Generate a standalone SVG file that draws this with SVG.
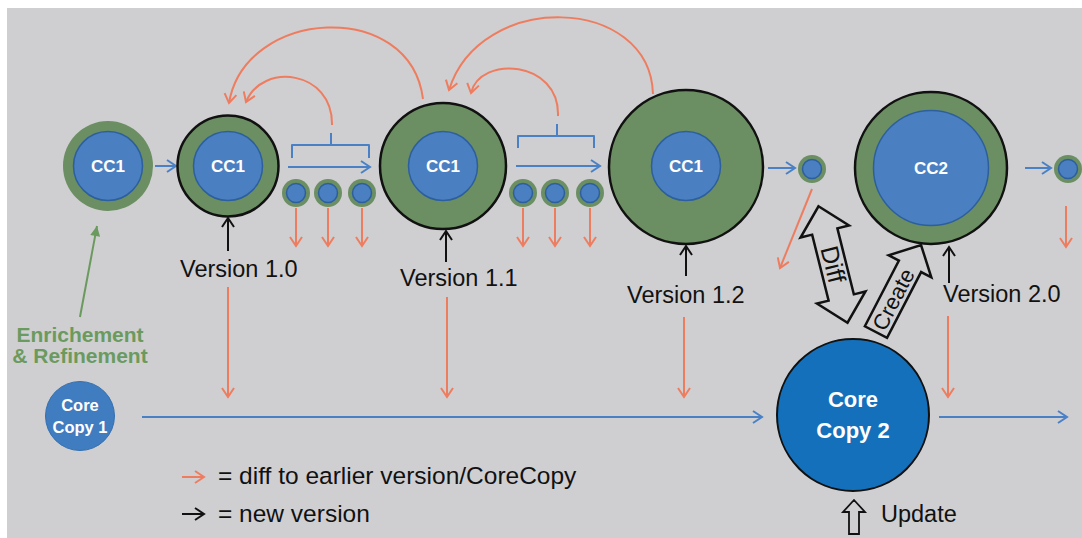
<svg xmlns="http://www.w3.org/2000/svg" width="1082" height="538" viewBox="0 0 1082 538">
<style>
.ring{fill:#6b8f62}
.ringb{fill:#6b8f62;stroke:#111;stroke-width:2.5}
.core{fill:#4a7fc1;stroke:#2d5f9e;stroke-width:1.5}
.red{stroke:#ee7d60;stroke-width:2;fill:none}
.blue{stroke:#4a80c6;stroke-width:2;fill:none}
.blk{stroke:#111;stroke-width:2;fill:none}
.grn{stroke:#6b9a5e;stroke-width:2;fill:none}
.lbl{font-family:"Liberation Sans",Arial,sans-serif;fill:#111;font-size:23.5px}
.wt{font-family:"Liberation Sans",Arial,sans-serif;fill:#fff;font-weight:bold;text-anchor:middle}
.blockarrow{fill:#d0d0d2;stroke:#111;stroke-width:2.5;stroke-linejoin:miter}
</style>
<defs>
<marker id="mr" viewBox="0 0 14 14" refX="12" refY="7" markerWidth="14" markerHeight="14" markerUnits="userSpaceOnUse" orient="auto"><path d="M3,1 L12,7 L3,13" fill="none" stroke="#ee7d60" stroke-width="2"/></marker>
<marker id="mb" viewBox="0 0 14 14" refX="12" refY="7" markerWidth="14" markerHeight="14" markerUnits="userSpaceOnUse" orient="auto"><path d="M3,1 L12,7 L3,13" fill="none" stroke="#4a80c6" stroke-width="2"/></marker>
<marker id="mk" viewBox="0 0 14 14" refX="12" refY="7" markerWidth="14" markerHeight="14" markerUnits="userSpaceOnUse" orient="auto"><path d="M3,1 L12,7 L3,13" fill="none" stroke="#111" stroke-width="2"/></marker>
<marker id="mg" viewBox="0 0 14 14" refX="12" refY="7" markerWidth="14" markerHeight="14" markerUnits="userSpaceOnUse" orient="auto"><path d="M2,2 L12,7 L2,12 Z" fill="#6b9a5e"/></marker>
</defs>
<rect x="0" y="0" width="1082" height="538" fill="#ffffff"/>
<rect x="7" y="8" width="1075" height="530" fill="#cfcfd1"/>

<g id="connectors">
<path class="red" d="M332,125 C333,70 262,62 246,102" marker-end="url(#mr)"/>
<path class="red" d="M423,99 C410,-2 245,8 229,103" marker-end="url(#mr)"/>
<path class="red" d="M558,116 C560,60 480,55 471,93" marker-end="url(#mr)"/>
<path class="red" d="M653,94 C650,-5 480,-10 449,90" marker-end="url(#mr)"/>
<path class="blue" d="M292,158 V145 H331 V133 M331,145 H369 V158" stroke-linejoin="round"/>
<path class="blue" d="M518,148 V136 H557 V124 M557,136 H594 V148" stroke-linejoin="round"/>
<line class="blue" x1="155" y1="166" x2="176" y2="166" marker-end="url(#mb)"/>
<line class="blue" x1="288" y1="167" x2="370" y2="167" marker-end="url(#mb)"/>
<line class="blue" x1="516" y1="166" x2="600" y2="166" marker-end="url(#mb)"/>
<line class="blue" x1="768" y1="168" x2="795" y2="168" marker-end="url(#mb)"/>
<line class="blue" x1="1025" y1="168" x2="1051" y2="168" marker-end="url(#mb)"/>
<line class="blue" x1="142" y1="417" x2="762" y2="417" marker-end="url(#mb)"/>
<line class="blue" x1="939" y1="417" x2="1067" y2="417" marker-end="url(#mb)"/>
<line class="red" x1="296" y1="208" x2="296" y2="246" marker-end="url(#mr)"/>
<line class="red" x1="328" y1="208" x2="328" y2="246" marker-end="url(#mr)"/>
<line class="red" x1="362" y1="208" x2="362" y2="246" marker-end="url(#mr)"/>
<line class="red" x1="523" y1="208" x2="523" y2="246" marker-end="url(#mr)"/>
<line class="red" x1="555" y1="208" x2="555" y2="246" marker-end="url(#mr)"/>
<line class="red" x1="590" y1="208" x2="590" y2="246" marker-end="url(#mr)"/>
<line class="red" x1="1066" y1="206" x2="1066" y2="247" marker-end="url(#mr)"/>
<line class="red" x1="812" y1="189" x2="780" y2="268" marker-end="url(#mr)"/>
<line class="red" x1="228" y1="287" x2="228" y2="397" marker-end="url(#mr)"/>
<line class="red" x1="447" y1="297" x2="447" y2="397" marker-end="url(#mr)"/>
<line class="red" x1="684" y1="317" x2="684" y2="397" marker-end="url(#mr)"/>
<line class="red" x1="948" y1="316" x2="948" y2="397" marker-end="url(#mr)"/>
<line class="blk" x1="228" y1="251" x2="228" y2="218" marker-end="url(#mk)"/>
<line class="blk" x1="446" y1="262" x2="446" y2="231" marker-end="url(#mk)"/>
<line class="blk" x1="686" y1="276" x2="686" y2="246" marker-end="url(#mk)"/>
<line class="blk" x1="949" y1="283" x2="949" y2="247" marker-end="url(#mk)"/>
<line class="grn" x1="80" y1="317" x2="97" y2="226" marker-end="url(#mg)"/>
</g>

<g id="n1">
<circle class="ring" cx="108" cy="166" r="45"/>
<circle class="core" cx="108" cy="166" r="34.5"/>
<text class="wt" x="108" y="172" font-size="17">CC1</text>
</g>
<g id="n2">
<circle class="ringb" cx="228" cy="166" r="50.5"/>
<circle class="core" cx="228" cy="166" r="34.5"/>
<text class="wt" x="228" y="172" font-size="17">CC1</text>
</g>
<g id="sa">
<circle class="ring" cx="296" cy="193" r="14"/><circle class="core" cx="296" cy="193" r="9.5"/>
<circle class="ring" cx="328" cy="193" r="14"/><circle class="core" cx="328" cy="193" r="9.5"/>
<circle class="ring" cx="362" cy="193" r="14"/><circle class="core" cx="362" cy="193" r="9.5"/>
</g>
<g id="n3">
<circle class="ringb" cx="443" cy="166" r="63"/>
<circle class="core" cx="443" cy="166" r="34.5"/>
<text class="wt" x="443" y="172" font-size="17">CC1</text>
</g>
<g id="sb">
<circle class="ring" cx="523" cy="193" r="14"/><circle class="core" cx="523" cy="193" r="9.5"/>
<circle class="ring" cx="555" cy="193" r="14"/><circle class="core" cx="555" cy="193" r="9.5"/>
<circle class="ring" cx="590" cy="193" r="14"/><circle class="core" cx="590" cy="193" r="9.5"/>
</g>
<g id="n4">
<circle class="ringb" cx="686" cy="167" r="77"/>
<circle class="core" cx="686" cy="166" r="34.5"/>
<text class="wt" x="686" y="172" font-size="17">CC1</text>
</g>
<g id="s4">
<circle class="ring" cx="812" cy="169" r="14"/><circle class="core" cx="812" cy="169" r="9.5"/>
</g>
<g id="n5">
<circle class="ringb" cx="931" cy="168" r="76"/>
<circle class="core" cx="931" cy="168" r="57.5"/>
<text class="wt" x="931" y="174" font-size="17">CC2</text>
</g>
<g id="s5">
<circle class="ring" cx="1068" cy="169" r="14"/><circle class="core" cx="1068" cy="169" r="9.5"/>
</g>
<g id="cc1">
<circle cx="80" cy="416" r="34.5" fill="#3f7cc0" stroke="#3470b0" stroke-width="1"/>
<text class="wt" x="80" y="411" font-size="16.5">Core</text>
<text class="wt" x="80" y="433" font-size="16.5">Copy 1</text>
</g>
<g id="cc2">
<circle cx="853" cy="415" r="76" fill="#1470ba" stroke="#111" stroke-width="2"/>
<text class="wt" x="853" y="407" font-size="22">Core</text>
<text class="wt" x="853" y="438" font-size="22">Copy 2</text>
</g>

<g id="labels">
<text class="lbl" x="180" y="277">Version 1.0</text>
<text class="lbl" x="400" y="286">Version 1.1</text>
<text class="lbl" x="627" y="303">Version 1.2</text>
<text class="lbl" x="943" y="302">Version 2.0</text>
<text x="80" y="342" text-anchor="middle" font-family="Liberation Sans, Arial, sans-serif" font-weight="bold" font-size="21" fill="#6b9a5e">Enrichement</text>
<text x="80" y="363" text-anchor="middle" font-family="Liberation Sans, Arial, sans-serif" font-weight="bold" font-size="21" fill="#6b9a5e">&amp; Refinement</text>
</g>

<g id="diff" transform="translate(833,264.5) rotate(76)">
<polygon class="blockarrow" points="-60,0 -34,-25 -34,-13 34,-13 34,-25 60,0 34,25 34,13 -34,13 -34,25"/>
<text class="lbl" x="0" y="8.5" text-anchor="middle" style="font-size:25px">Diff</text>
</g>
<g id="create" transform="translate(898.5,288.5) rotate(-62.6)">
<polygon class="blockarrow" points="-49,-12.5 25,-12.5 25,-24 49,0 25,24 25,12.5 -49,12.5"/>
<text class="lbl" x="-12" y="8" text-anchor="middle" style="font-size:22px">Create</text>
</g>
<g id="update">
<polygon points="854,500 865,512 859,512 859,534 849,534 849,512 843,512" fill="none" stroke="#111" stroke-width="1.8"/>
<text class="lbl" x="881" y="522">Update</text>
</g>

<g id="legend">
<line class="red" x1="182" y1="477" x2="204" y2="477" marker-end="url(#mr)"/>
<text class="lbl" x="218" y="484" style="font-size:24.5px">= diff to earlier version/CoreCopy</text>
<line class="blk" x1="182" y1="514" x2="204" y2="514" marker-end="url(#mk)"/>
<text class="lbl" x="218" y="522" style="font-size:24.5px">= new version</text>
</g>
</svg>
